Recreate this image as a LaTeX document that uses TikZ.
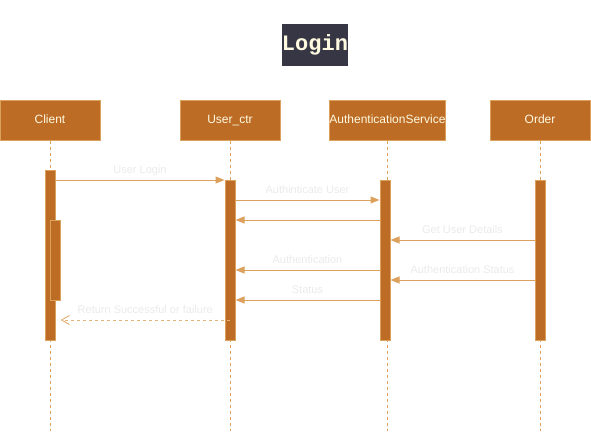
\documentclass[tikz,border=0pt]{standalone}
\usepackage{fontspec}
\setmainfont{Liberation Sans}
\setmonofont{Liberation Mono}
\usetikzlibrary{arrows.meta}
\definecolor{barfill}{HTML}{BC6C25}
\definecolor{barline}{HTML}{DDA15E}
\definecolor{cream}{HTML}{FEFAE0}
\definecolor{titlebg}{HTML}{363645}
\definecolor{msgtext}{HTML}{EAEAEA}
\begin{document}
\begin{tikzpicture}[x=1pt,y=-1pt,
    actor/.style={draw=barline,fill=barfill,line width=1pt,minimum width=100pt,
        minimum height=40pt,inner sep=0pt,text=cream,text height=8.6pt,text depth=2.4pt,
        font=\fontsize{12}{14}\selectfont},
    bar/.style={draw=barline,fill=barfill,line width=1pt,minimum width=10pt,inner sep=0pt},
    life/.style={draw=barline,line width=1pt,dash pattern=on 3pt off 3pt},
    msg/.style={draw=barline,line width=1pt,-{Triangle[length=9pt,width=7pt]}},
    reply/.style={draw=barline!80,line width=1pt,dash pattern=on 3pt off 3pt,
        -{Straight Barb[length=8pt,width=9pt]}},
    lbl/.style={midway,above=0pt,text=msgtext,text height=8pt,text depth=2.2pt,
        font=\fontsize{11}{13}\selectfont}]
    \useasboundingbox (0,0) rectangle (591,431);
    \node[fill=titlebg,text=cream,minimum width=66pt,minimum height=42pt,inner sep=0pt,
        font=\fontsize{22}{24}\selectfont\ttfamily\bfseries] (title) at (315,45) {Login};
    % actors
    \node[actor] (client) at (50,120) {Client};
    \node[actor] (ctr) at (230,120) {User\_ctr};
    \node[actor,minimum width=105pt] (auth) at (387.5,120) {AuthenticationService};
    \node[actor] (order) at (540,120) {Order};
    \coordinate (bottom) at (0,431);
    \draw[life] (client.south) -- (client.south |- bottom);
    \draw[life] (ctr.south) -- (ctr.south |- bottom);
    \draw[life] (auth.south) -- (auth.south |- bottom);
    \draw[life] (order.south) -- (order.south |- bottom);
    % activations
    \node[bar,minimum height=170pt] (clbar) at (50,255) {};
    \node[bar,minimum height=80pt] (clnest) at (55,260) {};
    \node[bar,minimum height=160pt] (ctrbar) at (230,260) {};
    \node[bar,minimum height=160pt] (authbar) at (385,260) {};
    \node[bar,minimum height=160pt] (ordbar) at (540,260) {};
    % messages
    \coordinate (m1) at (0,180);
    \coordinate (m2) at (0,200);
    \coordinate (m3) at (0,220);
    \coordinate (m4) at (0,240);
    \coordinate (m5) at (0,270);
    \coordinate (m6) at (0,280);
    \coordinate (m7) at (0,300);
    \coordinate (m8) at (0,320);
    \draw[msg] (clbar.east |- m1) -- (ctrbar.west |- m1) node[lbl] {User Login};
    \draw[msg] (ctrbar.east |- m2) -- (authbar.west |- m2) node[lbl] {Authinticate User};
    \draw[msg] (authbar.west |- m3) -- (ctrbar.east |- m3);
    \draw[msg] (ordbar.west |- m4) -- (authbar.east |- m4) node[lbl] {Get User Details};
    \draw[msg] (authbar.west |- m5) -- (ctrbar.east |- m5) node[lbl] {Authentication};
    \draw[msg] (ordbar.west |- m6) -- (authbar.east |- m6) node[lbl] {Authentication Status};
    \draw[msg] (authbar.west |- m7) -- (ctrbar.east |- m7) node[lbl] {Status};
    \draw[reply] (ctrbar.center |- m8) -- (clnest.east |- m8) node[lbl] {Return Successful or failure};
\end{tikzpicture}
\end{document}
